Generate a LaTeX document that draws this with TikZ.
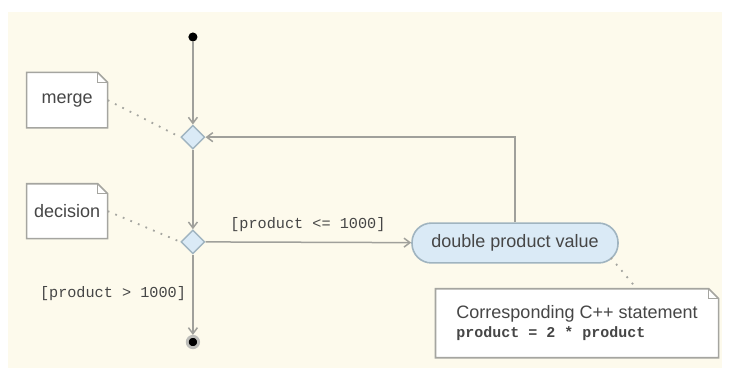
\documentclass[tikz,border=0pt]{standalone}
\usepackage{fontspec}
\setmainfont{Liberation Sans}
\setmonofont{Liberation Mono}
\usetikzlibrary{arrows.meta, shapes.geometric, positioning, calc}
\definecolor{cream}{RGB}{253,250,236}
\definecolor{linegray}{RGB}{160,160,155}
\definecolor{notegray}{RGB}{165,165,160}
\definecolor{paleblue}{RGB}{218,234,246}
\definecolor{blueedge}{RGB}{160,180,192}
\definecolor{inkgray}{RGB}{70,70,70}
\tikzset{
>={Straight Barb[length=3pt,width=4.5pt]},
flow/.style={draw=linegray, line width=0.75pt, ->},
anchorline/.style={draw=notegray, line width=0.9pt, dash pattern=on 0.9pt off 3.2pt},
decide/.style={diamond, draw=blueedge, fill=paleblue, line width=0.7pt, minimum width=0.42cm, minimum height=0.42cm, inner sep=0pt},
startdot/.style={circle, fill=black, minimum size=0.16cm, inner sep=0pt},
enddot/.style={circle, fill=black, draw=linegray!70, line width=0.05cm, minimum size=0.2cm, inner sep=0pt},
actionbox/.style={rectangle, rounded corners=0.34cm, draw=blueedge, fill=paleblue, line width=0.8pt, minimum width=3.62cm, minimum height=0.7cm, text=inkgray, font=\fontsize{9}{10}\selectfont},
notebody/.style={rectangle, fill=white, text=inkgray, font=\fontsize{9}{10}\selectfont},
guard/.style={text=inkgray, font=\ttfamily\fontsize{7.6}{9}\selectfont, inner sep=1pt},
}
% note outline with a folded corner
\newcommand{\foldednote}[1]{%
  \fill[cream] ([xshift=-5pt]#1.north east) -- (#1.north east) -- ([yshift=-5pt]#1.north east) -- cycle;
  \draw[notegray, line width=0.8pt] (#1.south west) -- (#1.north west) -- ([xshift=-5pt]#1.north east)
     -- ([yshift=-5pt]#1.north east) -- (#1.south east) -- cycle;
  \draw[notegray, line width=0.6pt] ([xshift=-5pt]#1.north east) |- ([yshift=-5pt]#1.north east);
}

\begin{document}
\begin{tikzpicture}
    \useasboundingbox (0,0) rectangle (12.81,6.80);
    \fill[cream] (0.14,0.33) rectangle (12.69,6.59);

    \node[startdot] (init) at (3.39,6.15) {};
    \node[decide] (merge) at (3.39,4.39) {};
    \node[decide] (decision) at (3.39,2.55) {};
    \node[enddot] (final) at (3.39,0.79) {};
    \node[actionbox] (double) at (9.05,2.53) {double product value};

    \node[notebody, minimum width=1.41cm, minimum height=0.96cm] (mergenote) at (1.18,5.04) {merge};
    \node[notebody, minimum width=1.41cm, minimum height=0.95cm] (decisionnote) at (1.18,3.09) {decision};
    \node[notebody, minimum width=4.96cm, minimum height=1.20cm, align=left] (stmtnote) at (10.14,1.12)
        {\raisebox{0pt}[6pt][0pt]{Corresponding C++ statement}\\[-0.5pt]
         {\ttfamily\bfseries\fontsize{7.5}{9}\selectfont product = 2 * product}};
    \foldednote{mergenote}
    \foldednote{decisionnote}
    \foldednote{stmtnote}

    \draw[flow] (init) -- (merge);
    \draw[flow] (merge) -- (decision);
    \draw[flow] (decision) -- (double);
    \draw[flow] (decision) -- (final);
    \draw[flow] (double.north) |- (merge.east);

    \node[guard] (guardloop) at (5.41,2.86) {[product <= 1000]};
    \node[guard, anchor=east] (guardexit) at (3.31,1.65) {[product > 1000]};

    %\draw[anchorline] (mergenote) -- (merge);
    \draw[anchorline] (mergenote.east) -- (merge.west);
    \draw[anchorline] (decisionnote.east) -- (decision.west);
    \draw[anchorline] ([xshift=-4pt,yshift=3pt]double.south east) -- ([xshift=1.05cm]stmtnote.north);
\end{tikzpicture}
\end{document}
